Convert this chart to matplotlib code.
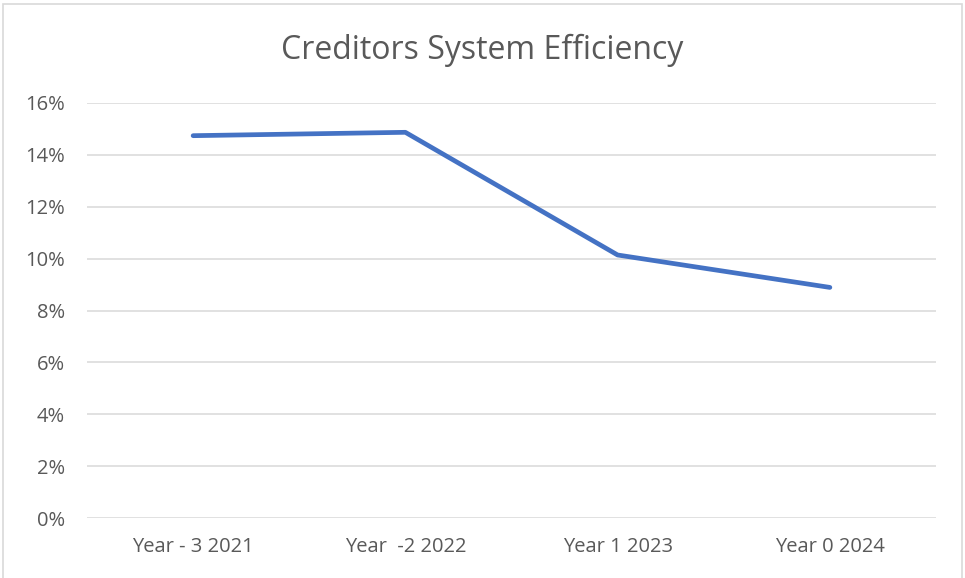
import matplotlib
matplotlib.use("Agg")
import matplotlib.pyplot as plt
from matplotlib.ticker import FuncFormatter
from matplotlib.patches import Rectangle

categories = ["Year - 3 2021", "Year  -2 2022", "Year 1 2023", "Year 0 2024"]
efficiency = [14.74, 14.87, 10.14, 8.89]
yticks = [0, 2, 4, 6, 8, 10, 12, 14, 16]

plt.rcParams["font.family"] = ["Open Sans", "DejaVu Sans"]
text_color = "#595959"

fig = plt.figure(figsize=(9.65, 5.78), dpi=100)
ax = fig.add_axes([87 / 965, 1 - 518 / 578, 849 / 965, 415 / 578])

x = list(range(len(categories)))
ax.plot(x, efficiency, color="#4472c4", linewidth=3.4, solid_capstyle="round",
        solid_joinstyle="round", zorder=3)

ax.set_xlim(-0.5, len(categories) - 0.5)
ax.set_ylim(0, 16)
ax.set_yticks(yticks)
ax.yaxis.set_major_formatter(FuncFormatter(lambda v, _: f"{v:.0f}%"))
ax.set_xticks(x)
ax.set_xticklabels(categories)

ax.grid(axis="y", color="#d9d9d9", linewidth=1.1)
ax.set_axisbelow(True)
for side in ["top", "right", "left", "bottom"]:
    ax.spines[side].set_visible(False)
ax.tick_params(axis="both", length=0, labelsize=14.5, colors=text_color)
ax.tick_params(axis="y", pad=16)
ax.tick_params(axis="x", pad=14)

fig.text(0.5, 1 - 50 / 578, "Creditors System Efficiency", ha="center", va="center",
         fontsize=23, color=text_color)

fig.patches.append(Rectangle((3 / 965, -0.01), 959 / 965, 1 - 4 / 578 + 0.01,
                             transform=fig.transFigure, fill=False,
                             edgecolor="#d9d9d9", linewidth=1.2))

fig.savefig("out.png", dpi=100)
